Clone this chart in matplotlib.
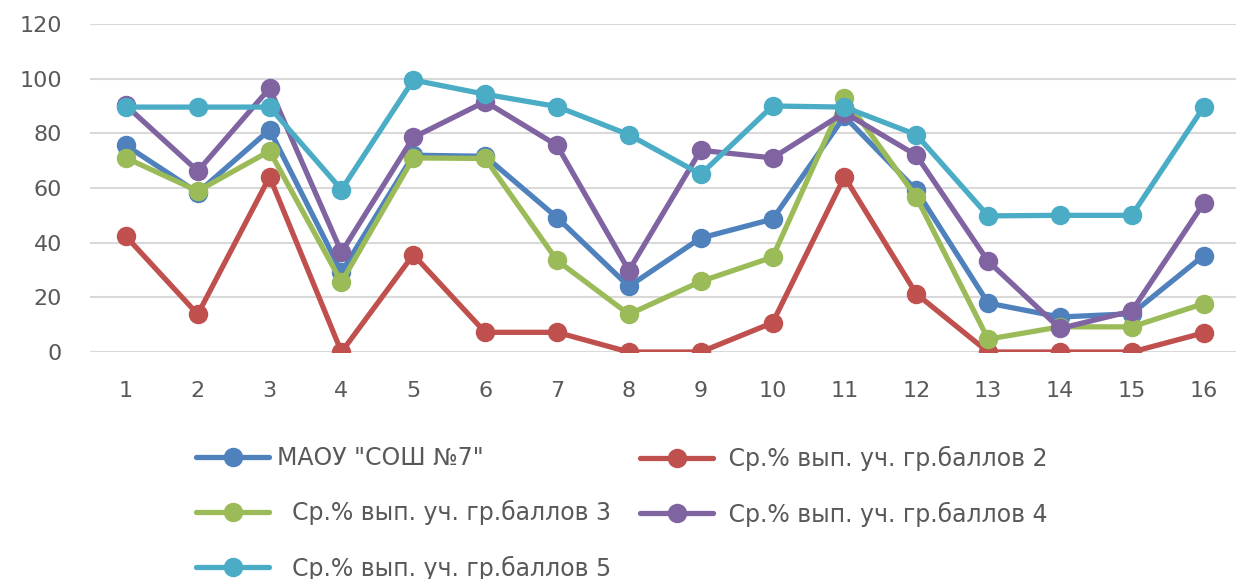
import matplotlib
matplotlib.use("Agg")
import matplotlib.pyplot as plt

plt.rcParams['font.family'] = ['DejaVu Sans']

tasks = list(range(1, 17))
school = [75.6, 58.3, 81.3, 29.2, 72, 71.6, 49.2, 24, 41.7, 48.6, 86.2, 59.2, 17.9, 12.8, 14, 35.3]
gr2 = [42.3, 13.8, 64.1, 0, 35.6, 7.2, 7.2, 0, 0, 10.7, 64.1, 21.3, 0, 0, 0, 7]
gr3 = [71, 58.9, 73.5, 25.6, 71, 70.8, 33.5, 13.8, 25.8, 34.7, 93, 56.7, 4.7, 9.2, 9.2, 17.7]
gr4 = [90.2, 66.2, 96.5, 36.5, 78.5, 91.6, 75.6, 29.8, 73.8, 71, 87.6, 72, 33.2, 8.6, 15, 54.4]
gr5 = [89.6, 89.6, 89.6, 59.4, 99.5, 94.3, 89.8, 79.5, 65, 90, 89.6, 79.5, 49.8, 50, 50, 89.6]

labels = ['МАОУ "СОШ №7"',
          ' Ср.% вып. уч. гр.баллов 2',
          '  Ср.% вып. уч. гр.баллов 3',
          ' Ср.% вып. уч. гр.баллов 4',
          '  Ср.% вып. уч. гр.баллов 5']
colors = ['#4F81BD', '#C0504D', '#9BBB59', '#8064A2', '#4BACC6']
series = [school, gr2, gr3, gr4, gr5]

fig = plt.figure(figsize=(12.36, 5.79), dpi=100)
ax = fig.add_axes([90/1236, 1-352/579, 1-90/1236, (352-24)/579])

lines = []
for vals, col, lab in zip(series, colors, labels):
    ln, = ax.plot(tasks, vals, color=col, lw=3.8, marker='o', ms=13,
                  label=lab, solid_capstyle='round')
    lines.append(ln)

ax.set_xlim(0.5, 16.45)
ax.set_ylim(0, 120)
ax.set_yticks(range(0, 121, 20))
ax.set_xticks(tasks)
ax.grid(axis='y', color='#d9d9d9', lw=1.5)
ax.set_axisbelow(True)
for s in ax.spines.values():
    s.set_visible(False)
ax.tick_params(axis='both', length=0, labelsize=16, labelcolor='#595959')
ax.tick_params(axis='x', pad=21)
ax.tick_params(axis='y', pad=20)

leg_kw = dict(frameon=False, fontsize=17, handlelength=3.1, handletextpad=0.35,
              labelspacing=1.28, borderaxespad=0, borderpad=0, labelcolor='#595959')
fig.legend([lines[0], lines[2], lines[4]], [labels[0], labels[2], labels[4]],
           loc='upper left', bbox_to_anchor=(196/1236, 1-446/579), **leg_kw)
fig.legend([lines[1], lines[3]], [labels[1], labels[3]],
           loc='upper left', bbox_to_anchor=(640/1236, 1-446/579), **leg_kw)

fig.savefig('out.png', dpi=100)
